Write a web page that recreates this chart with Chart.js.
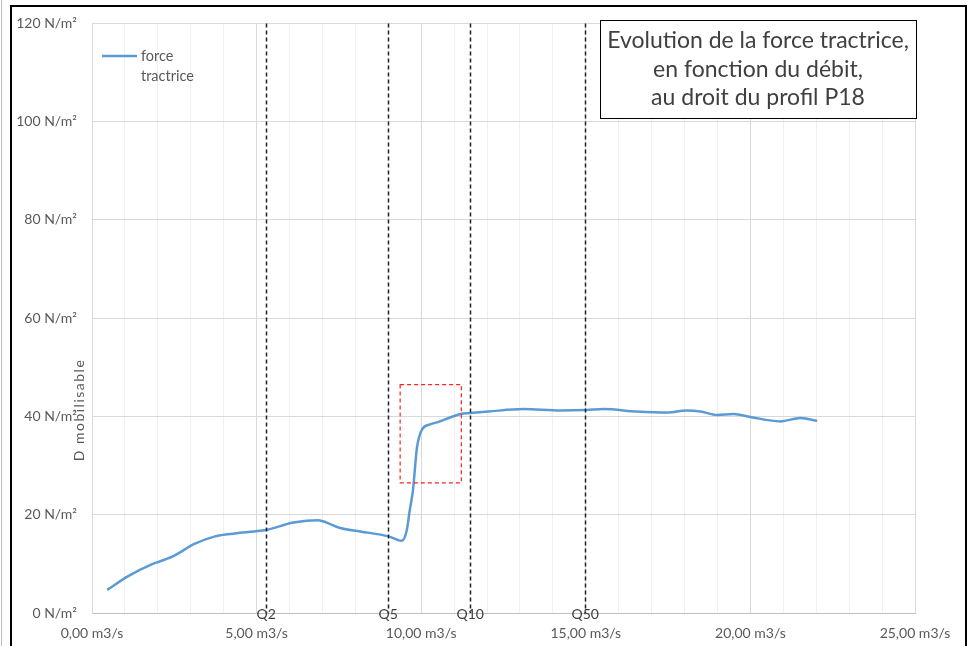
<!DOCTYPE html>
<html>
<head>
<meta charset="utf-8">
<script src="https://cdn.jsdelivr.net/npm/chart.js@4.4.1/dist/chart.umd.min.js"></script>
<style>
  html, body { margin: 0; padding: 0; background: #fff; }
  canvas { display: block; }
</style>
</head>
<body>
<canvas id="chart" width="973" height="646"></canvas>
<script>
// débit (m3/s) et force tractrice (N/m²)
const debit = [0.46, 1.10, 1.81, 2.42, 3.13, 3.74, 4.35, 4.93, 5.29, 6.12, 6.88, 7.13, 7.54, 8.15, 9.01, 9.41, 9.56, 9.65, 9.75, 9.87, 10.02, 10.27, 10.53, 10.88, 11.19, 11.49, 12.04, 13.11, 14.22, 15.03, 15.54, 16.55, 17.47, 18.07, 18.48, 18.99, 19.49, 20.00, 20.91, 21.52, 22.03];
const forceTractrice = [4.7, 7.5, 9.9, 11.4, 14.1, 15.6, 16.2, 16.6, 16.9, 18.4, 18.9, 18.4, 17.3, 16.6, 15.6, 14.7, 16.8, 20.8, 25.0, 33.6, 37.3, 38.4, 38.9, 39.8, 40.5, 40.7, 41.0, 41.5, 41.2, 41.3, 41.5, 41.0, 40.8, 41.2, 41.0, 40.3, 40.5, 39.9, 39.0, 39.7, 39.1];

// débits caractéristiques
const qLabels = ["Q2", "Q5", "Q10", "Q50"];
const qValues = [5.29, 9.0, 11.49, 14.98];

// zone encadrée en rouge [xmin, xmax, ymin, ymax]
const highlightBox = [9.36, 11.22, 26.5, 46.5];

const titleLines = ["Evolution de la force tractrice,", "en fonction du débit,", "au droit du profil P18"];
const yTitle = "D mobilisable";
const seriesLabel = "force tractrice";

const FONT = "Lato, 'Open Sans', sans-serif";
const BLUE = "#5B9BD5";

function fmt(n) {
    return n.toFixed(2).replace(".", ",");
}

const overlay = {
    id: "overlay",
    afterDatasetsDraw(chart) {
        const { ctx, chartArea, scales } = chart;
        const x = scales.x, y = scales.y;
        ctx.save();

        // lignes des débits caractéristiques
        ctx.strokeStyle = "#222";
        ctx.lineWidth = 1.5;
        ctx.setLineDash([4, 3]);
        qValues.forEach((q, i) => {
            const px = Math.round(x.getPixelForValue(q)) + 0.5;
            ctx.beginPath();
            ctx.moveTo(px, chartArea.top);
            ctx.lineTo(px, chartArea.bottom);
            ctx.stroke();
        });
        ctx.setLineDash([]);
        ctx.fillStyle = "#404040";
        ctx.font = "14px " + FONT;
        ctx.textAlign = "center";
        ctx.textBaseline = "middle";
        qValues.forEach((q, i) => {
            ctx.fillText(qLabels[i], x.getPixelForValue(q), chartArea.bottom + 1);
        });

        // cadre rouge
        ctx.strokeStyle = "#ff2020";
        ctx.lineWidth = 1.2;
        ctx.setLineDash([4, 3]);
        const bx1 = x.getPixelForValue(highlightBox[0]), bx2 = x.getPixelForValue(highlightBox[1]);
        const by1 = y.getPixelForValue(highlightBox[3]), by2 = y.getPixelForValue(highlightBox[2]);
        ctx.strokeRect(bx1, by1, bx2 - bx1, by2 - by1);
        ctx.setLineDash([]);

        // légende
        ctx.strokeStyle = BLUE;
        ctx.lineWidth = 2.5;
        ctx.beginPath();
        ctx.moveTo(102, 56);
        ctx.lineTo(137, 56);
        ctx.stroke();
        ctx.fillStyle = "#595959";
        ctx.font = "14.5px " + FONT;
        ctx.textAlign = "left";
        const parts = seriesLabel.split(" ");
        ctx.fillText(parts[0], 141, 56);
        ctx.fillText(parts[1], 141, 76);

        // titre dans un cadre
        ctx.fillStyle = "#fff";
        ctx.fillRect(600, 20, 316, 98);
        ctx.strokeStyle = "#000";
        ctx.lineWidth = 1;
        ctx.strokeRect(600.5, 20.5, 316, 98);
        ctx.fillStyle = "#404040";
        ctx.font = "23px " + FONT;
        ctx.textAlign = "center";
        titleLines.forEach((t, i) => ctx.fillText(t, 758, 41 + i * 28.5));

        // titre axe y
        ctx.save();
        ctx.translate(79, 410);
        ctx.rotate(-Math.PI / 2);
        ctx.fillStyle = "#595959";
        ctx.font = "14px " + FONT;
        ctx.letterSpacing = "1.5px";
        ctx.fillText(yTitle, 0, 0);
        ctx.restore();

        // bordure extérieure
        ctx.strokeStyle = "#000";
        ctx.lineWidth = 2;
        ctx.beginPath();
        ctx.moveTo(11, 646);
        ctx.lineTo(11, 6);
        ctx.lineTo(966, 6);
        ctx.lineTo(966, 646);
        ctx.stroke();
        ctx.strokeStyle = "#bbb";
        ctx.lineWidth = 1;
        ctx.beginPath();
        ctx.moveTo(1.5, 0);
        ctx.lineTo(1.5, 646);
        ctx.stroke();

        ctx.restore();
    }
};

new Chart(document.getElementById("chart"), {
    type: "line",
    data: {
        datasets: [{
            label: seriesLabel,
            data: debit.map((d, i) => ({ x: d, y: forceTractrice[i] })),
            borderColor: BLUE,
            backgroundColor: BLUE,
            borderWidth: 2.5,
            pointRadius: 0,
            cubicInterpolationMode: "monotone",
            fill: false
        }]
    },
    options: {
        responsive: false,
        devicePixelRatio: 1,
        animation: false,
        layout: { padding: { top: 19, right: 58, left: 0, bottom: 0 } },
        plugins: { legend: { display: false }, tooltip: { enabled: false } },
        scales: {
            x: {
                type: "linear",
                min: 0,
                max: 25,
                afterFit: s => { s.height = 33; },
                ticks: {
                    stepSize: 1,
                    autoSkip: false,
                    maxRotation: 0,
                    padding: 12,
                    color: "#595959",
                    font: { family: FONT, size: 14 },
                    callback: v => (v % 5 === 0 ? fmt(v) + " m3/s" : "")
                },
                grid: {
                    drawTicks: false,
                    color: c => (c.tick && c.tick.value % 5 === 0 ? "#d9d9d9" : "#efefef"),
                    lineWidth: 1
                },
                border: { color: "#bfbfbf" }
            },
            y: {
                min: 0,
                max: 120,
                afterFit: s => { s.width = 92; },
                ticks: {
                    stepSize: 20,
                    padding: 15,
                    color: "#595959",
                    font: { family: FONT, size: 14 },
                    callback: v => v + " N/m²"
                },
                grid: { drawTicks: false, color: "#d9d9d9", lineWidth: 1 },
                border: { color: "#d9d9d9" }
            }
        }
    },
    plugins: [overlay]
});
</script>
</body>
</html>
